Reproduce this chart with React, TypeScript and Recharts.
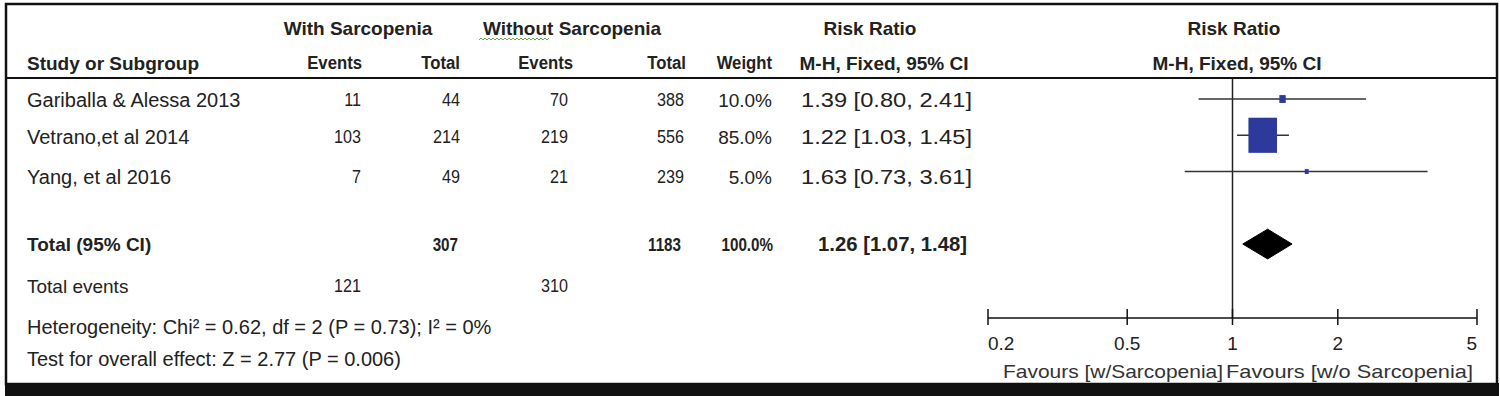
import { Area, ComposedChart, ReferenceLine, Scatter, XAxis, YAxis } from "recharts";

const FONT = "'Liberation Sans', Arial, sans-serif";

// study rows
const studies = ["Gariballa & Alessa 2013", "Vetrano,et al 2014", "Yang, et al 2016"];
const eventsWith = [11, 103, 7];
const totalWith = [44, 214, 49];
const eventsWithout = [70, 219, 21];
const totalWithout = [388, 556, 239];
const weights = [10.0, 85.0, 5.0];
const riskRatio = [1.39, 1.22, 1.63];
const ciLow = [0.8, 1.03, 0.73];
const ciHigh = [2.41, 1.45, 3.61];
const studyRows = [1, 2, 3];

// pooled
const pooledRow = 5;
const pooledRR = 1.26;
const pooledLow = 1.07;
const pooledHigh = 1.48;
const pooledTotals = [307, 1183];
const pooledEvents = [121, 310];

const xTicks = [0.2, 0.5, 1, 2, 5];

const points = studies.map((name, i) => ({ name, x: riskRatio[i], y: studyRows[i], weight: weights[i] }));
const diamond = [
    { x: pooledLow, band: [pooledRow, pooledRow] },
    { x: pooledRR, band: [pooledRow - 0.41, pooledRow + 0.41] },
    { x: pooledHigh, band: [pooledRow, pooledRow] },
];

const fmt2 = (v: number) => v.toFixed(2);
const ciText = (rr: number, lo: number, hi: number) => `${fmt2(rr)} [${fmt2(lo)}, ${fmt2(hi)}]`;

type TxtProps = {
    x: number;
    y: number;
    anchor?: "start" | "middle" | "end";
    size?: number;
    bold?: boolean;
    sx?: number;
    len?: number;
    fill?: string;
    children: React.ReactNode;
};

// sx < 1 squeezes the glyphs, the scan uses a narrow face for the numbers
const Txt = ({ x, y, anchor = "start", size = 19, bold = false, sx = 1, len, fill = "#222", children }: TxtProps) => (
    <text
        transform={`translate(${x} ${y}) scale(${sx} 1)`}
        textAnchor={anchor}
        dominantBaseline="central"
        fontFamily={FONT}
        fontSize={size}
        fontWeight={bold ? 700 : 400}
        fill={fill}
        textLength={len}
        lengthAdjust={len ? "spacingAndGlyphs" : undefined}
    >
        {children}
    </text>
);

// spell-check squiggle left over in the scanned figure
const Squiggle = ({ x1, x2, y }: { x1: number; x2: number; y: number }) => {
    let d = `M${x1} ${y}`;
    for (let x = x1 + 2, up = true; x <= x2; x += 2, up = !up) d += ` L${x} ${up ? y - 2 : y}`;
    return <path d={d} fill="none" stroke="#6aa84f" strokeWidth={1} />;
};

const Square = (props: any) => {
    const { cx, cy, payload } = props;
    const w = 32 * Math.pow(payload.weight / 100, 0.7);
    const h = w * 1.23;
    return <rect x={cx - w / 2} y={cy - h / 2} width={w} height={h} fill="#2c3a9c" />;
};

const ForestTick = (props: any) => {
    const { x, y, payload, index } = props;
    const anchor = index === 0 ? "start" : index === xTicks.length - 1 ? "end" : "middle";
    return (
        <g>
            <line x1={x} x2={x} y1={y - 9} y2={y + 7} stroke="#111" strokeWidth={1.5} />
            <text x={x} y={y + 25} textAnchor={anchor} dominantBaseline="central" fontFamily={FONT} fontSize={19} fill="#222">
                {payload.value}
            </text>
        </g>
    );
};

const textRows = [100, 137, 177];

const Table = () => (
    <svg width={1500} height={396} style={{ position: "absolute", left: 0, top: 0, pointerEvents: "none" }}>
        {/* frame */}
        <rect x={6} y={4} width={1491} height={380} fill="none" stroke="#111" strokeWidth={2.5} />
        <rect x={5} y={383} width={1494} height={13} fill="#111" />
        <line x1={6} x2={1497} y1={78} y2={78} stroke="#111" strokeWidth={2} />

        {/* headers */}
        <Txt x={358} y={28} anchor="middle" bold>With Sarcopenia</Txt>
        <Txt x={572} y={28} anchor="middle" bold>Without Sarcopenia</Txt>
        <Squiggle x1={479} x2={549} y={40} />
        <Txt x={870} y={28} anchor="middle" bold>Risk Ratio</Txt>
        <Txt x={1234} y={28} anchor="middle" bold>Risk Ratio</Txt>
        <Txt x={27} y={63} bold>Study or Subgroup</Txt>
        <Txt x={362} y={63} anchor="end" bold sx={0.88}>Events</Txt>
        <Txt x={460} y={63} anchor="end" bold sx={0.88}>Total</Txt>
        <Txt x={573} y={63} anchor="end" bold sx={0.88}>Events</Txt>
        <Txt x={686} y={63} anchor="end" bold sx={0.88}>Total</Txt>
        <Txt x={772} y={63} anchor="end" bold sx={0.88}>Weight</Txt>
        <Txt x={884} y={63} anchor="middle" bold>M-H, Fixed, 95% CI</Txt>
        <Txt x={1237} y={63} anchor="middle" bold>M-H, Fixed, 95% CI</Txt>

        {/* studies */}
        {studies.map((name, i) => (
            <g key={name}>
                <Txt x={27} y={textRows[i]} size={20}>{name}</Txt>
                <Txt x={361} y={textRows[i]} anchor="end" sx={0.85}>{eventsWith[i]}</Txt>
                <Txt x={460} y={textRows[i]} anchor="end" sx={0.85}>{totalWith[i]}</Txt>
                <Txt x={568} y={textRows[i]} anchor="end" sx={0.85}>{eventsWithout[i]}</Txt>
                <Txt x={684} y={textRows[i]} anchor="end" sx={0.85}>{totalWithout[i]}</Txt>
                <Txt x={772} y={textRows[i]} anchor="end">{`${weights[i].toFixed(1)}%`}</Txt>
                <Txt x={801} y={textRows[i]} size={20} len={171}>{ciText(riskRatio[i], ciLow[i], ciHigh[i])}</Txt>
            </g>
        ))}

        {/* pooled */}
        <Txt x={27} y={244} bold>Total (95% CI)</Txt>
        <Txt x={458} y={244} anchor="end" bold sx={0.8}>{pooledTotals[0]}</Txt>
        <Txt x={681} y={244} anchor="end" bold sx={0.8}>{pooledTotals[1]}</Txt>
        <Txt x={773} y={244} anchor="end" bold sx={0.8}>100.0%</Txt>
        <Txt x={818} y={244} size={20} bold len={149}>{ciText(pooledRR, pooledLow, pooledHigh)}</Txt>
        <Txt x={27} y={286}>Total events</Txt>
        <Txt x={361} y={286} anchor="end" sx={0.85}>{pooledEvents[0]}</Txt>
        <Txt x={568} y={286} anchor="end" sx={0.85}>{pooledEvents[1]}</Txt>
        <Txt x={27} y={327} size={20}>Heterogeneity: Chi² = 0.62, df = 2 (P = 0.73); I² = 0%</Txt>
        <Txt x={27} y={359} size={20}>Test for overall effect: Z = 2.77 (P = 0.006)</Txt>

        <Txt x={1223} y={371} anchor="end" len={220} fill="#333">Favours [w/Sarcopenia]</Txt>
        <Txt x={1226} y={371} len={247} fill="#333">Favours [w/o Sarcopenia]</Txt>
    </svg>
);

export default function App() {
    return (
        <div style={{ position: "absolute", left: 0, top: 0, width: 1500, height: 396, background: "#fff" }}>
            <ComposedChart width={1500} height={396} margin={{ top: 78, right: 23, bottom: 38, left: 988 }}>
                <XAxis
                    type="number"
                    dataKey="x"
                    scale="log"
                    domain={[0.2, 5]}
                    ticks={xTicks}
                    interval={0}
                    allowDataOverflow
                    height={40}
                    axisLine={{ stroke: "#111", strokeWidth: 1.5 }}
                    tickLine={false}
                    tickSize={0}
                    tickMargin={0}
                    tick={ForestTick}
                />
                <YAxis type="number" dataKey="y" domain={[0.42, 7.04]} reversed hide allowDataOverflow width={0} />
                <ReferenceLine x={1} stroke="#222" strokeWidth={1.5} />
                {studies.map((name, i) => (
                    <ReferenceLine
                        key={name}
                        segment={[
                            { x: ciLow[i], y: studyRows[i] },
                            { x: ciHigh[i], y: studyRows[i] },
                        ]}
                        stroke="#333"
                        strokeWidth={1.5}
                    />
                ))}
                <Scatter data={points} shape={Square} isAnimationActive={false} />
                <Area data={diamond} dataKey="band" type="linear" stroke="#000" fill="#000" fillOpacity={1} isAnimationActive={false} />
            </ComposedChart>
            <Table />
        </div>
    );
}
